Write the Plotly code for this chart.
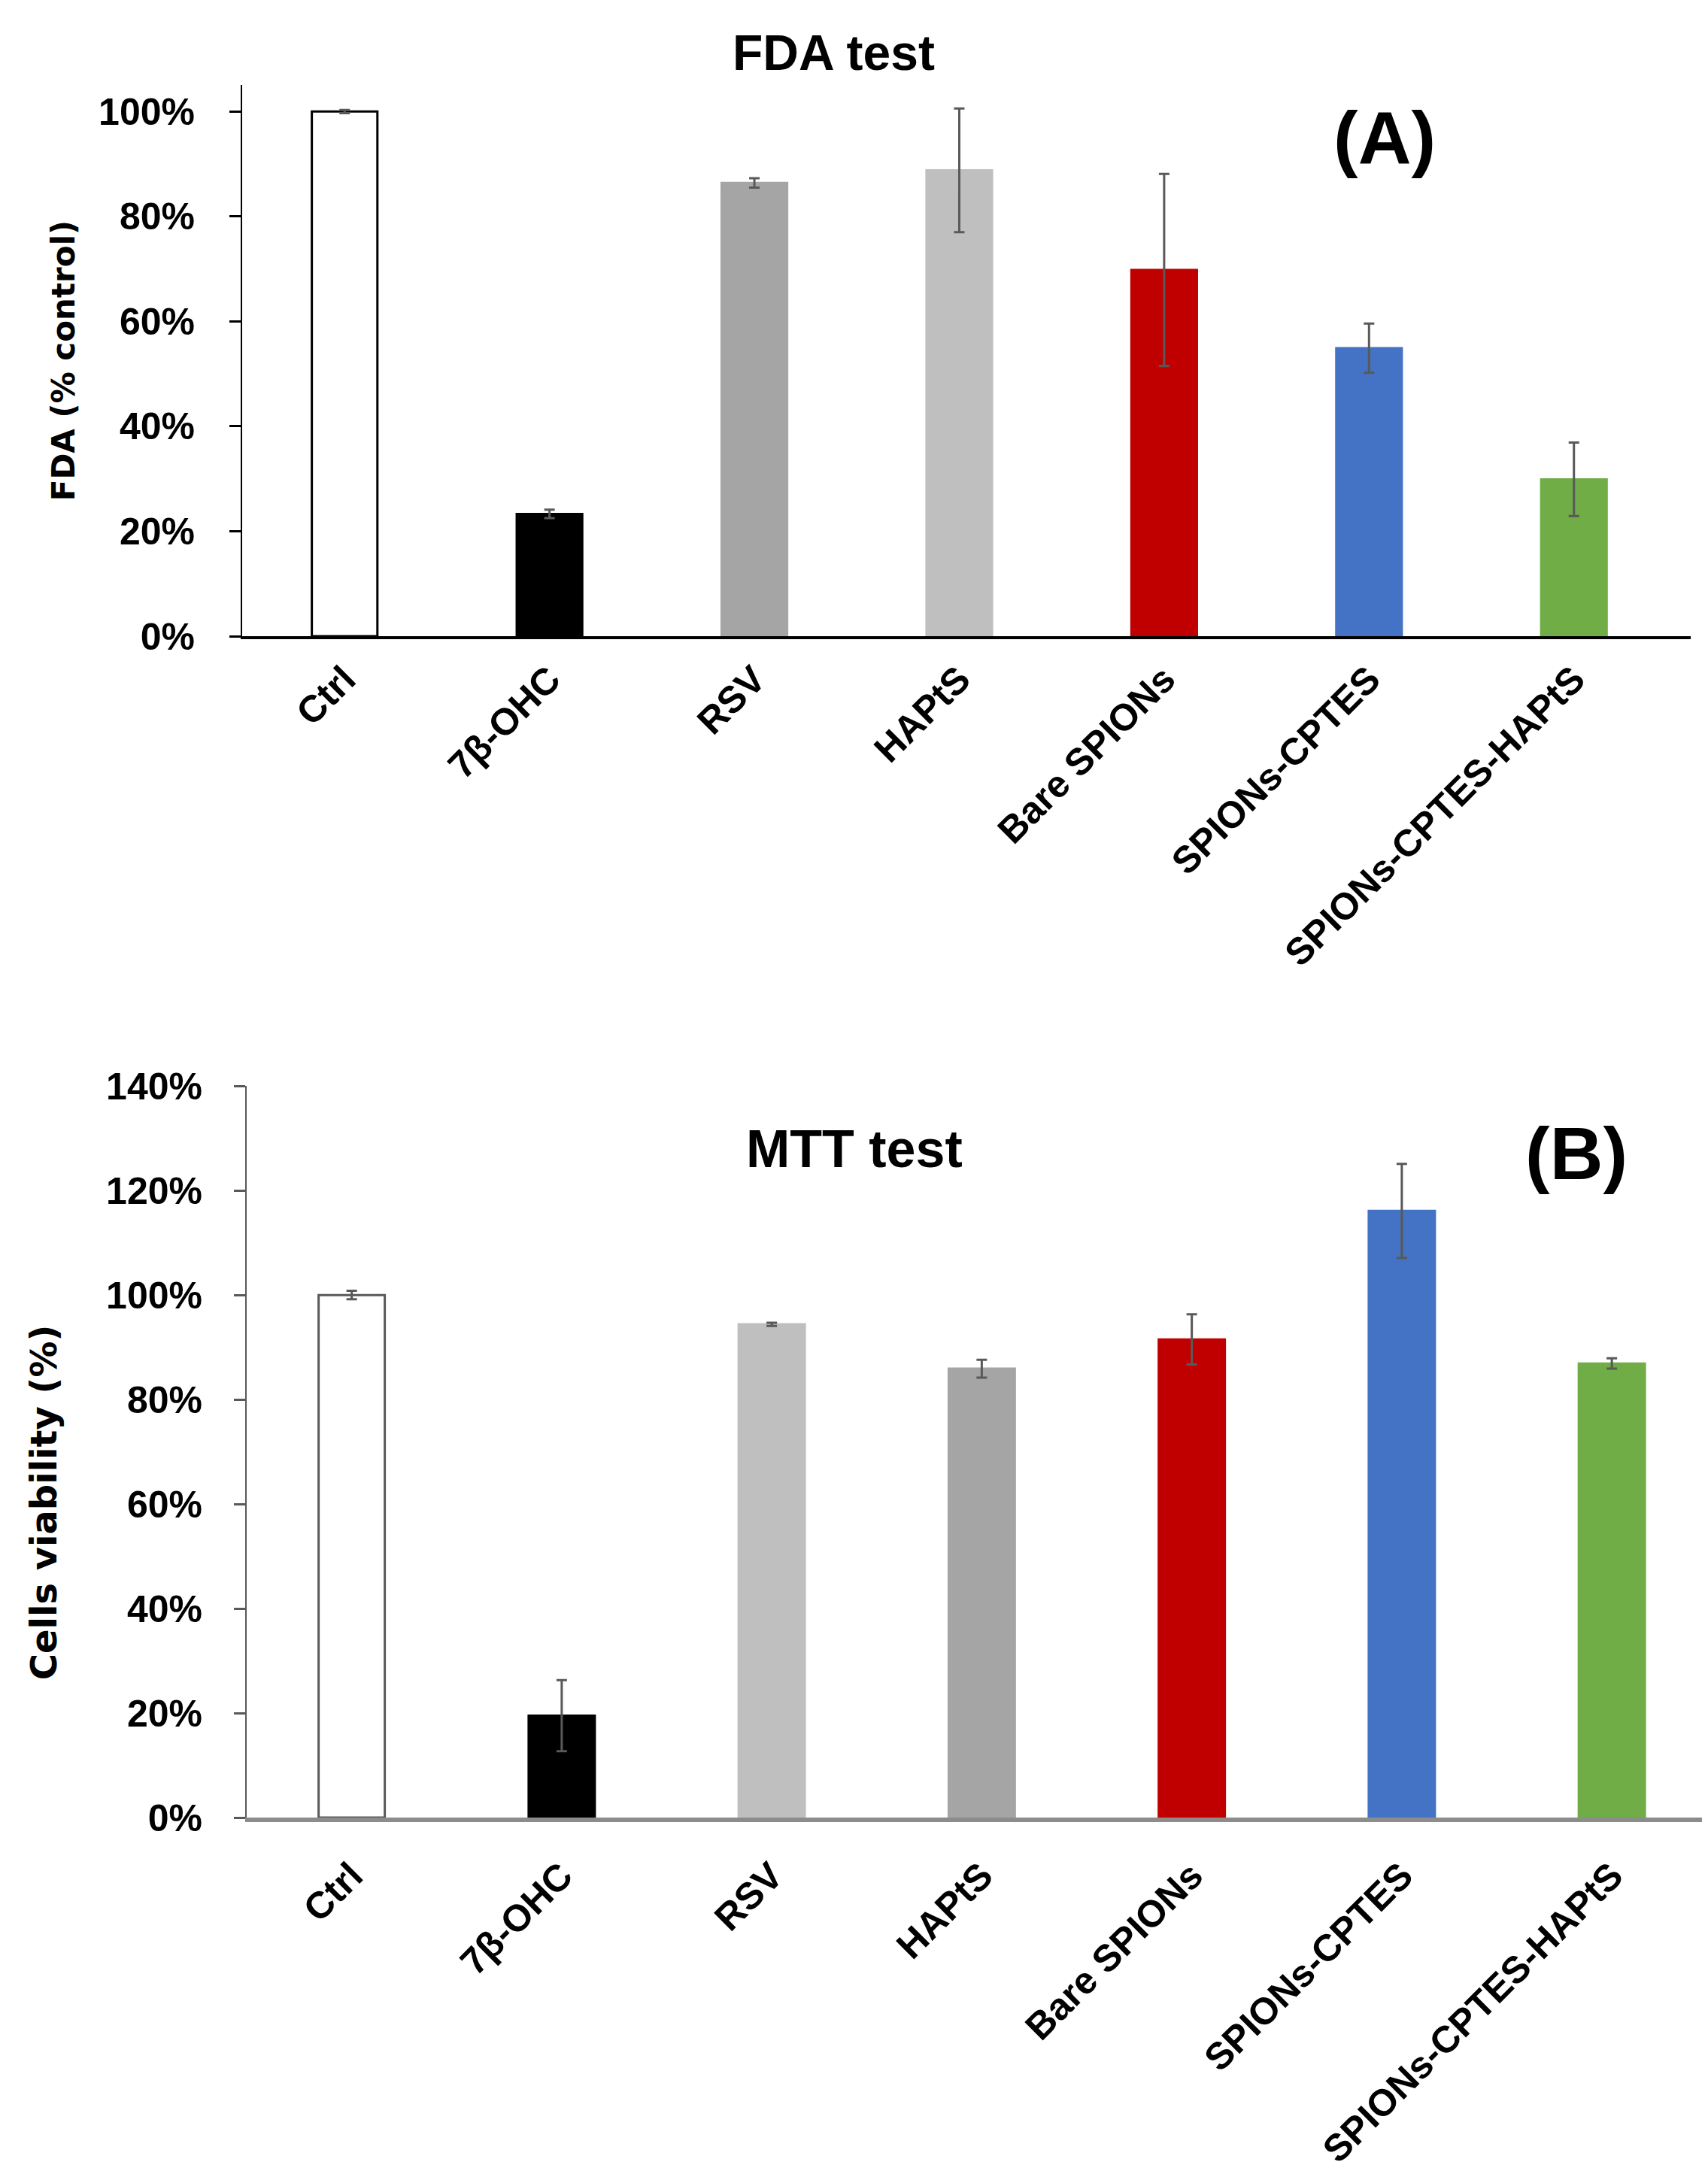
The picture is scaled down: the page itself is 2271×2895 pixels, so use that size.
import plotly.graph_objects as go

# categories (same order in both panels)
categories = ["Ctrl", "7β-OHC", "RSV", "HAPtS", "Bare SPIONs", "SPIONs-CPTES", "SPIONs-CPTES-HAPtS"]

# panel A - FDA test (% of control)
fda_values = [100.0, 23.3, 86.4, 88.8, 69.8, 54.9, 29.9]
fda_errors = [0.3, 0.8, 0.9, 11.8, 18.3, 4.7, 7.0]
fda_colors = ["#ffffff", "#000000", "#a5a5a5", "#bfbfbf", "#c00000", "#4472c4", "#70ad47"]
fda_lines = ["#000000", "#000000", "#a5a5a5", "#bfbfbf", "#c00000", "#4472c4", "#70ad47"]

# panel B - MTT test (cell viability %)
mtt_values = [100.0, 19.5, 94.4, 85.9, 91.5, 116.1, 86.9]
mtt_errors = [0.8, 6.8, 0.3, 1.7, 4.8, 9.0, 1.0]
mtt_colors = ["#ffffff", "#000000", "#bfbfbf", "#a5a5a5", "#c00000", "#4472c4", "#70ad47"]
mtt_lines = ["#595959", "#000000", "#bfbfbf", "#a5a5a5", "#c00000", "#4472c4", "#70ad47"]

W, H = 2271, 2895
TICK_FONT = dict(family="Liberation Sans", size=50, color="black", weight="bold")
XLAB_FONT = dict(family="Liberation Sans", size=50, color="black", weight="bold")

fig = go.Figure()

fig.add_trace(go.Bar(
    x=categories, y=fda_values, width=0.32,
    marker=dict(color=fda_colors, line=dict(color=fda_lines, width=3)),
    error_y=dict(type="data", array=fda_errors, color="#595959", thickness=3, width=7),
    xaxis="x", yaxis="y", showlegend=False,
))
fig.add_trace(go.Bar(
    x=categories, y=mtt_values, width=0.315,
    marker=dict(color=mtt_colors, line=dict(color=mtt_lines, width=3)),
    error_y=dict(type="data", array=mtt_errors, color="#595959", thickness=3, width=7),
    xaxis="x2", yaxis="y2", showlegend=False,
))

def px_x(p):
    return p / W

def px_y(p):
    return 1 - p / H

def note(text, x, y, size, family="Liberation Sans", angle=0):
    return dict(text=text, x=px_x(x), y=px_y(y), xref="paper", yref="paper",
                xanchor="center", yanchor="middle", showarrow=False, textangle=angle,
                font=dict(family=family, size=size, color="black"))

fig.update_layout(
    width=W, height=H,
    margin=dict(l=0, r=0, t=0, b=0),
    paper_bgcolor="white", plot_bgcolor="white",
    font=dict(family="Liberation Sans", color="black"),
    xaxis=dict(
        domain=[px_x(314), px_x(2240)], anchor="y",
        range=[-0.5, 6.57],
        showline=True, linecolor="black", linewidth=4,
        ticks="", tickangle=-45, ticklabelstandoff=4,
        tickfont=XLAB_FONT, showgrid=False,
    ),
    yaxis=dict(
        domain=[px_y(827), px_y(80)], anchor="x",
        range=[0, 105], tickvals=[0, 20, 40, 60, 80, 100],
        ticktext=["0%", "20%", "40%", "60%", "80%", "100%"],
        showline=True, linecolor="black", linewidth=2,
        ticks="outside", ticklen=15, tickwidth=3, tickcolor="black",
        ticklabelstandoff=36,
        tickfont=TICK_FONT, showgrid=False, zeroline=False,
    ),
    xaxis2=dict(
        domain=[px_x(320), px_x(2258)], anchor="y2",
        range=[-0.5, 6.44],
        showline=True, linecolor="#8c8c8c", linewidth=6,
        ticks="", tickangle=-45, ticklabelstandoff=22,
        tickfont=XLAB_FONT, showgrid=False,
    ),
    yaxis2=dict(
        domain=[px_y(2429), px_y(1437)], anchor="x2",
        range=[0, 140], tickvals=[0, 20, 40, 60, 80, 100, 120, 140],
        ticktext=["0%", "20%", "40%", "60%", "80%", "100%", "120%", "140%"],
        showline=True, linecolor="#595959", linewidth=2,
        ticks="outside", ticklen=15, tickwidth=3, tickcolor="#595959",
        ticklabelstandoff=32,
        tickfont=TICK_FONT, showgrid=False, zeroline=False,
    ),
    annotations=[
        note("<b>FDA test</b>", 1100, 36, 66),
        note("<b>(A)</b>", 1833, 151, 98),
        note("<b>FDA (% control)</b>", 76, 454, 42, family="DejaVu Sans", angle=-90),
        note("<b>MTT test</b>", 1128, 1522, 70),
        note("<b>(B)</b>", 2088, 1529, 98),
        note("<b>Cells viability (%)</b>", 50, 2002, 48, family="DejaVu Sans", angle=-90),
    ],
)

fig.write_html("out.html")
